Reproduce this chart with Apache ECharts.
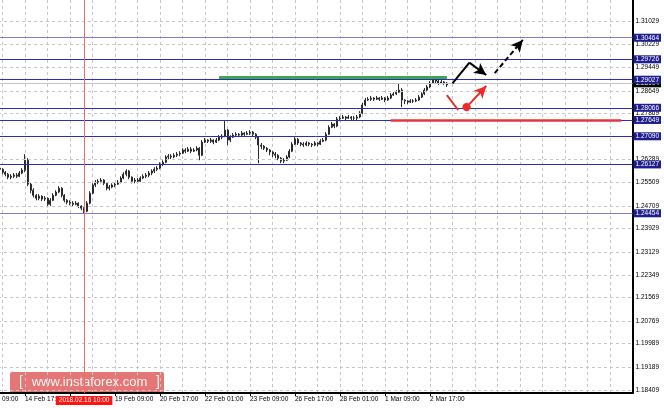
<!DOCTYPE html>
<html><head><meta charset="utf-8">
<script src="https://cdn.jsdelivr.net/npm/echarts@6/dist/echarts.min.js"></script>
<style>html,body{margin:0;padding:0;background:#fff}#c{width:664px;height:408px}</style>
</head><body><div id="c"></div><script>
// ---- time axis (2-hour slots, a labelled tick every 16 slots) ----
const xTickLabels = ['13 Feb 09:00','14 Feb 17:00','16 Feb 01:00','19 Feb 09:00','20 Feb 17:00','22 Feb 01:00','23 Feb 09:00','26 Feb 17:00','28 Feb 01:00','1 Mar 09:00','2 Mar 17:00'];
const slotsPerTick = 16;
const slotsPerGridCell = 8;
const slotCount = 233;
const firstBarSlot = 7;
const crosshairSlot = 37;
const crosshairLabel = '2018.02.16 10:00';

// ---- bars (open / close / low / high) ----
const barOpen = [
1.2600,1.2596,1.2586,1.2579,1.2569,1.2572,1.2576,1.2572,1.2583,1.2593,
1.2627,1.2545,1.2524,1.2507,1.2497,1.2504,1.2494,1.2497,1.2476,1.2490,
1.2507,1.2518,1.2531,1.2507,1.2490,1.2483,1.2480,1.2476,1.2480,1.2470,
1.2463,1.2452,1.2480,1.2514,1.2542,1.2552,1.2555,1.2559,1.2548,1.2531,
1.2535,1.2542,1.2545,1.2552,1.2566,1.2579,1.2590,1.2569,1.2555,1.2559,
1.2555,1.2566,1.2572,1.2576,1.2583,1.2590,1.2596,1.2600,1.2614,1.2620,
1.2638,1.2641,1.2638,1.2644,1.2648,1.2651,1.2662,1.2658,1.2665,1.2658,
1.2662,1.2668,1.2644,1.2689,1.2696,1.2692,1.2696,1.2689,1.2696,1.2706,
1.2710,1.2730,1.2696,1.2706,1.2713,1.2716,1.2713,1.2720,1.2716,1.2720,
1.2723,1.2716,1.2706,1.2679,1.2675,1.2668,1.2662,1.2655,1.2648,1.2644,
1.2634,1.2624,1.2627,1.2638,1.2658,1.2682,1.2699,1.2686,1.2682,1.2679,
1.2686,1.2682,1.2679,1.2686,1.2682,1.2692,1.2696,1.2716,1.2740,1.2751,
1.2744,1.2768,1.2771,1.2775,1.2771,1.2775,1.2771,1.2771,1.2775,1.2788,
1.2816,1.2833,1.2836,1.2840,1.2836,1.2840,1.2836,1.2840,1.2833,1.2840,
1.2850,1.2854,1.2860,1.2867,1.2833,1.2830,1.2826,1.2830,1.2830,1.2833,
1.2843,1.2854,1.2867,1.2878,1.2891,1.2902,1.2898,1.2891,1.2895,1.2891];
const barClose = [
1.2596,1.2586,1.2579,1.2569,1.2572,1.2576,1.2572,1.2583,1.2593,1.2627,
1.2545,1.2524,1.2507,1.2497,1.2504,1.2494,1.2497,1.2476,1.2490,1.2507,
1.2518,1.2531,1.2507,1.2490,1.2483,1.2480,1.2476,1.2480,1.2470,1.2463,
1.2452,1.2480,1.2514,1.2542,1.2552,1.2555,1.2559,1.2548,1.2531,1.2535,
1.2542,1.2545,1.2552,1.2566,1.2579,1.2590,1.2569,1.2555,1.2559,1.2555,
1.2566,1.2572,1.2576,1.2583,1.2590,1.2596,1.2600,1.2614,1.2620,1.2638,
1.2641,1.2638,1.2644,1.2648,1.2651,1.2662,1.2658,1.2665,1.2658,1.2662,
1.2668,1.2644,1.2689,1.2696,1.2692,1.2696,1.2689,1.2696,1.2706,1.2710,
1.2730,1.2696,1.2706,1.2713,1.2716,1.2713,1.2720,1.2716,1.2720,1.2723,
1.2716,1.2706,1.2679,1.2675,1.2668,1.2662,1.2655,1.2648,1.2644,1.2634,
1.2624,1.2627,1.2638,1.2658,1.2682,1.2699,1.2686,1.2682,1.2679,1.2686,
1.2682,1.2679,1.2686,1.2682,1.2692,1.2696,1.2716,1.2740,1.2751,1.2744,
1.2768,1.2771,1.2775,1.2771,1.2775,1.2771,1.2771,1.2775,1.2788,1.2816,
1.2833,1.2836,1.2840,1.2836,1.2840,1.2836,1.2840,1.2833,1.2840,1.2850,
1.2854,1.2860,1.2867,1.2833,1.2830,1.2826,1.2830,1.2830,1.2833,1.2843,
1.2854,1.2867,1.2878,1.2891,1.2902,1.2898,1.2891,1.2895,1.2891,1.2885];
const barLow = [
1.2590,1.2579,1.2572,1.2562,1.2562,1.2566,1.2566,1.2569,1.2579,1.2586,
1.2538,1.2514,1.2500,1.2490,1.2490,1.2487,1.2487,1.2466,1.2470,1.2487,
1.2504,1.2514,1.2500,1.2483,1.2476,1.2473,1.2470,1.2473,1.2463,1.2456,
1.2446,1.2449,1.2476,1.2511,1.2535,1.2545,1.2548,1.2542,1.2524,1.2524,
1.2531,1.2535,1.2542,1.2548,1.2562,1.2572,1.2562,1.2548,1.2548,1.2548,
1.2552,1.2562,1.2566,1.2569,1.2576,1.2583,1.2590,1.2596,1.2607,1.2617,
1.2631,1.2631,1.2634,1.2638,1.2641,1.2648,1.2651,1.2655,1.2651,1.2655,
1.2658,1.2627,1.2641,1.2686,1.2686,1.2686,1.2682,1.2686,1.2692,1.2699,
1.2706,1.2679,1.2689,1.2703,1.2706,1.2706,1.2710,1.2710,1.2713,1.2713,
1.2710,1.2699,1.2617,1.2665,1.2662,1.2655,1.2644,1.2638,1.2634,1.2627,
1.2617,1.2617,1.2624,1.2634,1.2655,1.2679,1.2679,1.2675,1.2672,1.2675,
1.2675,1.2672,1.2675,1.2675,1.2679,1.2689,1.2692,1.2713,1.2737,1.2737,
1.2740,1.2761,1.2768,1.2764,1.2768,1.2764,1.2764,1.2764,1.2771,1.2785,
1.2812,1.2830,1.2830,1.2830,1.2833,1.2830,1.2833,1.2826,1.2830,1.2836,
1.2847,1.2850,1.2857,1.2809,1.2819,1.2819,1.2823,1.2823,1.2826,1.2830,
1.2840,1.2850,1.2864,1.2874,1.2888,1.2891,1.2885,1.2888,1.2885,1.2878];
const barHigh = [
1.2607,1.2600,1.2590,1.2583,1.2579,1.2583,1.2583,1.2590,1.2600,1.2648,
1.2634,1.2552,1.2531,1.2511,1.2511,1.2507,1.2504,1.2500,1.2497,1.2514,
1.2524,1.2538,1.2535,1.2511,1.2494,1.2490,1.2487,1.2487,1.2483,1.2473,
1.2466,1.2487,1.2521,1.2548,1.2559,1.2562,1.2566,1.2562,1.2552,1.2542,
1.2548,1.2552,1.2559,1.2572,1.2586,1.2596,1.2593,1.2572,1.2566,1.2566,
1.2572,1.2579,1.2583,1.2590,1.2596,1.2603,1.2607,1.2620,1.2627,1.2644,
1.2648,1.2648,1.2651,1.2655,1.2658,1.2668,1.2668,1.2672,1.2672,1.2668,
1.2675,1.2672,1.2696,1.2703,1.2699,1.2703,1.2699,1.2703,1.2713,1.2716,
1.2761,1.2734,1.2713,1.2720,1.2723,1.2720,1.2727,1.2723,1.2727,1.2730,
1.2727,1.2720,1.2710,1.2686,1.2679,1.2672,1.2665,1.2658,1.2655,1.2648,
1.2638,1.2634,1.2644,1.2665,1.2689,1.2706,1.2703,1.2689,1.2689,1.2692,
1.2689,1.2686,1.2692,1.2689,1.2699,1.2703,1.2723,1.2747,1.2758,1.2754,
1.2775,1.2778,1.2782,1.2778,1.2782,1.2778,1.2778,1.2782,1.2795,1.2823,
1.2840,1.2843,1.2847,1.2843,1.2847,1.2843,1.2847,1.2843,1.2847,1.2857,
1.2860,1.2867,1.2891,1.2874,1.2836,1.2833,1.2836,1.2836,1.2840,1.2850,
1.2860,1.2874,1.2885,1.2898,1.2909,1.2909,1.2902,1.2902,1.2898,1.2895];

// ---- price axis ----
const yMin = 1.18301, yMax = 1.31756;
const yTickLabels = ['1.31029','1.30229','1.29449','1.28649','1.27869','1.27089','1.26289','1.25509','1.24709','1.23929','1.23129','1.22349','1.21569','1.20769','1.19989','1.19189','1.18409'];
const levelLabels = ['1.30464','1.29726','1.29027','1.28066','1.27649','1.27090','1.26127','1.24454'];
const faintLevels = ['1.30464','1.24454'];
const lastPriceLabel = '1.28904';

// ---- drawn analysis marks, [slot, price] ----
const resistanceLine = [[85, 1.2910], [166, 1.2910]];
const supportLine = [[146, 1.2765], [228, 1.2765]];
const bullUp = [[168, 1.2890], [174, 1.2961]];
const bullPullback = [[174, 1.2961], [180, 1.2919]];
const bullTarget = [[183, 1.2925], [193, 1.3039]];
const bearDip = [[166, 1.2850], [170, 1.2799]];
const bearRebound = [[173, 1.2809], [180, 1.2881]];

const FONT = '"Liberation Sans", Arial, sans-serif';
const slots = Array.from({length: slotCount}, (_, i) => String(i));
const candles = slots.map((_, i) => {
  const k = i - firstBarSlot;
  return (k >= 0 && k < barClose.length) ? [barOpen[k], barClose[k], barLow[k], barHigh[k]] : ['-','-','-','-'];
});
const isTick = i => i % slotsPerTick === 0 && i / slotsPerTick < xTickLabels.length;

function seg(pts, color, width, type, endSym, startSym) {
  return [
    {coord: pts[0], symbol: startSym || 'none', symbolSize: startSym ? 8 : 0, itemStyle: {color}, lineStyle: {color, width, type: type || 'solid'}},
    {coord: pts[1], symbol: endSym || 'none', symbolSize: endSym ? [9, 12] : 0, itemStyle: {color}}
  ];
}

const chart = echarts.init(document.getElementById('c'), null, {renderer: 'canvas'});
chart.setOption({
  animation: false,
  backgroundColor: '#fff',
  grid: {left: -20, right: 31.5, top: 0, bottom: 15, containLabel: false, outerBoundsMode: 'none'},
  xAxis: {
    type: 'category', data: slots, boundaryGap: false,
    axisLine: {show: true, lineStyle: {color: '#000', width: 2}},
    axisTick: {show: true, interval: i => isTick(i), length: 3, lineStyle: {color: '#000', width: 1}},
    axisLabel: {show: true, interval: i => isTick(i), formatter: v => xTickLabels[parseInt(v, 10) / slotsPerTick] || '',
      align: 'left', margin: 3, fontSize: 6.5, color: '#000', fontFamily: FONT},
    splitLine: {show: true, interval: i => i % slotsPerGridCell === 0, lineStyle: {color: '#c6c6c6', type: [3, 3], width: 1}},
    axisPointer: {show: true, type: 'line', value: crosshairSlot, status: 'show', snap: false, triggerTooltip: false,
      lineStyle: {color: '#ef6a6a', width: 1, type: 'solid'},
      label: {show: true, formatter: () => crosshairLabel, backgroundColor: '#ff1414', color: '#fff',
        padding: [1, 3, 1, 3], fontSize: 6.5, fontFamily: FONT, margin: 3, borderRadius: 0, shadowBlur: 0, borderWidth: 0}}
  },
  yAxis: {
    type: 'value', position: 'right', min: yMin, max: yMax, scale: true,
    axisLine: {show: true, onZero: false, lineStyle: {color: '#000', width: 2}},
    axisTick: {show: false}, axisLabel: {show: false}, splitLine: {show: false}
  },
  series: [
    {type: 'line', data: [], z: 1, silent: true,
     markLine: {silent: true, animation: false, precision: 6, symbol: ['none', 'none'],
       lineStyle: {color: '#c6c6c6', type: [3, 3], width: 1},
       label: {show: true, position: 'end', distance: 3, color: '#000', fontSize: 6.5, fontFamily: FONT, formatter: '{b}'},
       emphasis: {disabled: true},
       data: yTickLabels.map(t => ({name: t, yAxis: parseFloat(t)}))}},
    {type: 'line', data: [], z: 2, silent: true,
     markLine: {silent: true, animation: false, precision: 6, symbol: ['none', 'none'],
       lineStyle: {color: '#c4c4c4', type: 'solid', width: 1},
       label: {show: true, position: 'end', distance: 1, color: '#fff', backgroundColor: '#000', padding: [1, 2, 0, 2],
         fontSize: 6.5, fontFamily: FONT, formatter: '{b}'},
       emphasis: {disabled: true},
       data: [{name: lastPriceLabel, yAxis: parseFloat(lastPriceLabel)}]}},
    {type: 'line', data: [], z: 3, silent: true,
     markLine: {silent: true, animation: false, precision: 6, symbol: ['none', 'none'],
       lineStyle: {color: '#2c2cc0', type: 'solid', width: 1},
       label: {show: true, position: 'end', distance: 1, color: '#fff', backgroundColor: '#1e1e8e', padding: [1, 2, 0, 2],
         fontSize: 6.5, fontFamily: FONT, formatter: '{b}'},
       emphasis: {disabled: true},
       data: levelLabels.map(t => ({name: t, yAxis: parseFloat(t),
         lineStyle: {color: faintLevels.includes(t) ? '#7f7fd6' : '#2c2cc0'}}))}},
    {type: 'candlestick', data: candles, z: 4, silent: true, barWidth: 1.5,
     itemStyle: {color: '#2a2a2a', color0: '#2a2a2a', borderColor: '#2a2a2a', borderColor0: '#2a2a2a', borderWidth: 1}},
    {type: 'line', data: [], z: 5, silent: true,
     markLine: {silent: true, animation: false, precision: 6, label: {show: false}, emphasis: {disabled: true},
       data: [
         seg(resistanceLine, '#3aa84b', 3),
         seg(supportLine, '#e8343c', 2.5),
         seg(bullUp, '#000', 2),
         seg(bullPullback, '#000', 2, 'solid', 'arrow'),
         seg(bullTarget, '#000', 2, [5, 3], 'arrow'),
         seg(bearDip, '#ee2b2b', 2),
         seg(bearRebound, '#ee2b2b', 2, 'solid', 'arrow', 'circle')
       ]}}
  ],
  graphic: [{type: 'group', left: 10, top: 372, z: 100, children: [
    {type: 'rect', shape: {x: 0, y: 0, width: 154, height: 21, r: 2}, style: {fill: 'rgba(215,45,45,0.65)'}},
    {type: 'text', x: 9, y: 10.5, style: {text: '[', fill: 'rgba(255,255,255,0.92)', font: '14px ' + FONT, verticalAlign: 'middle', textAlign: 'left'}},
    {type: 'text', x: 79.5, y: 10.5, style: {text: 'www.instaforex.com', fill: 'rgba(255,255,255,0.92)', font: '13px ' + FONT, verticalAlign: 'middle', textAlign: 'center'}},
    {type: 'text', x: 146, y: 10.5, style: {text: ']', fill: 'rgba(255,255,255,0.92)', font: '14px ' + FONT, verticalAlign: 'middle', textAlign: 'left'}}
  ]}]
});
</script></body></html>
